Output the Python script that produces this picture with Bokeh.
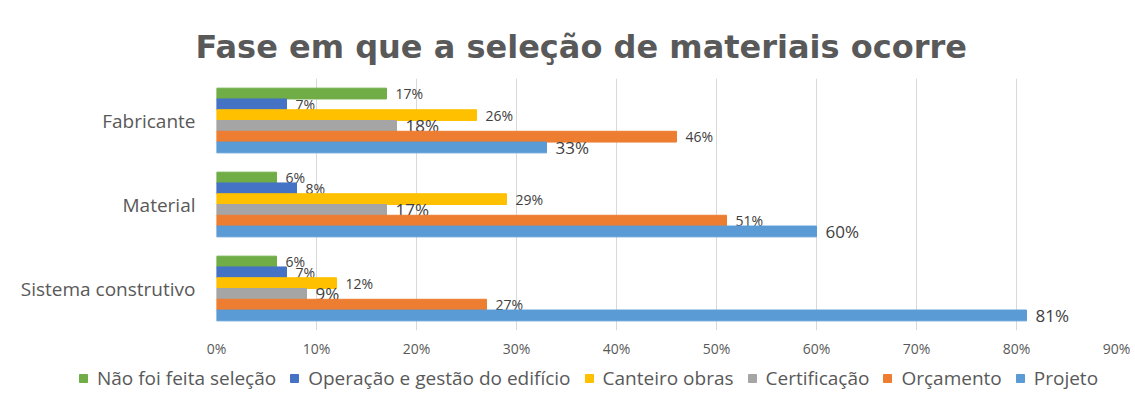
from bokeh.plotting import figure
from bokeh.layouts import column, row
from bokeh.models import FactorRange, Range1d, FixedTicker, NumeralTickFormatter, ColumnDataSource, Legend, LegendItem
from bokeh.transform import dodge
from bokeh.core.properties import value
from bokeh.embed import file_html
from bokeh.resources import INLINE

categories = ["Fabricante", "Material", "Sistema construtivo"]
series = ["Não foi feita seleção", "Operação e gestão do edifício", "Canteiro obras",
          "Certificação", "Orçamento", "Projeto"]
nao_feita = [17, 6, 6]
operacao = [7, 8, 7]
canteiro = [26, 29, 12]
certificacao = [18, 17, 9]
orcamento = [46, 51, 27]
projeto = [33, 60, 81]
x_ticks = [0, 10, 20, 30, 40, 50, 60, 70, 80, 90]

all_values = [nao_feita, operacao, canteiro, certificacao, orcamento, projeto]
colors = ["#70AD47", "#4472C4", "#FFC000", "#A5A5A5", "#ED7D31", "#5B9BD5"]
label_sizes = ["14px", "14px", "14px", "17px", "14px", "17px"]

FONT = "Open Sans"
p = figure(width=1130, height=363, output_backend="svg", toolbar_location=None,
           y_range=FactorRange(factors=list(reversed(categories))),
           x_range=Range1d(0, 0.9),
           min_border_left=216, min_border_right=14, min_border_top=78, min_border_bottom=33)

p.title.text = "Fase em que a seleção de materiais ocorre"
p.title.text_font = "DejaVu Sans"
p.title.text_font_size = "32px"
p.title.text_font_style = "bold"
p.title.text_color = "#595959"
p.title.align = "left"
p.title.offset = -21
p.title.standoff = 26

# legend strip (its bars use the same data but lie outside its visible range)
lg = figure(width=1130, height=32, output_backend="svg", toolbar_location=None,
            x_axis_type=None, y_axis_type=None, x_range=Range1d(0, 1), y_range=Range1d(2, 3),
            min_border_left=0, min_border_right=0, min_border_top=0, min_border_bottom=0)
lg.outline_line_color = None
lg.xgrid.grid_line_color = None
lg.ygrid.grid_line_color = None

band = 0.77
bh = band / len(series)
items = []
for i, (name, vals, col) in enumerate(zip(series, all_values, colors)):
    off = band / 2 - bh * (i + 0.5)
    src = ColumnDataSource(dict(cat=categories, val=[v / 100 for v in vals],
                                lab=[f"{v}%" for v in vals]))
    p.hbar(y=dodge("cat", off, range=p.y_range), left=0, right="val", height=bh,
           color=col, source=src)
    p.text(x="val", y=dodge("cat", off, range=p.y_range), text="lab", source=src,
           x_offset=9, text_baseline="middle", text_align="left",
           text_font=value(FONT), text_font_size=label_sizes[i], text_color="#404040")
    r = lg.hbar(y="val", left=0, right="val", height=0.01, color=col, source=src)
    items.append(LegendItem(label=name, renderers=[r]))

p.xaxis.ticker = FixedTicker(ticks=[t / 100 for t in x_ticks])
p.xaxis.formatter = NumeralTickFormatter(format="0%")
p.xaxis.axis_line_color = None
p.xaxis.major_tick_line_color = None
p.xaxis.minor_tick_line_color = None
p.xaxis.major_label_text_font = FONT
p.xaxis.major_label_text_font_size = "14px"
p.xaxis.major_label_text_color = "#595959"
p.xaxis.major_label_standoff = 2

p.yaxis.axis_line_color = None
p.yaxis.major_tick_line_color = None
p.yaxis.minor_tick_line_color = None
p.yaxis.major_label_text_font = FONT
p.yaxis.major_label_text_font_size = "19px"
p.yaxis.major_label_text_color = "#595959"
p.yaxis.major_label_standoff = 15

p.xgrid.grid_line_color = "#d9d9d9"
p.ygrid.grid_line_color = None
p.outline_line_color = None

legend = Legend(items=items, orientation="horizontal", location=(78, 4),
                label_text_font=FONT, label_text_font_size="19px", label_text_color="#595959",
                glyph_width=10, glyph_height=10, label_standoff=9, spacing=13,
                border_line_color=None, background_fill_alpha=0, padding=0, margin=0)
lg.add_layout(legend)

layout = column(p, row(lg), spacing=0)
open("out.html", "w").write(file_html(layout, INLINE))
